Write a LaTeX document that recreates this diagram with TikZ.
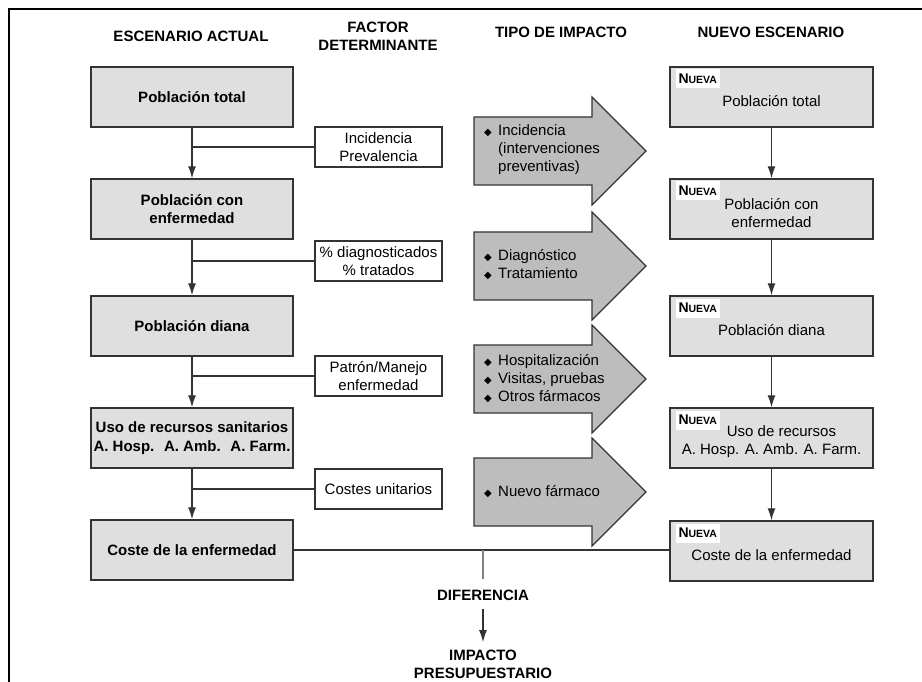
\documentclass[tikz,border=0pt]{standalone}
\usepackage{fontspec}
\setmainfont{Liberation Sans}
\newfontfamily\symfont{DejaVu Sans}
\usetikzlibrary{positioning,arrows.meta}

\definecolor{boxgray}{HTML}{DFDFDF}
\definecolor{arrowgray}{HTML}{BDBDBD}
\definecolor{linegray}{HTML}{333333}

\newcommand{\bul}{\makebox[14pt][l]{\symfont\fontsize{10}{10}\selectfont ◆}}
\newcommand{\nobul}{\hspace*{14pt}}
\newcommand{\nueva}{N{\fontsize{10.5}{10.5}\selectfont UEVA}}

\begin{document}
\begin{tikzpicture}[x=1pt, y=-1pt,
    head/.style={font=\fontsize{15}{18}\selectfont\bfseries, align=center},
    oldbox/.style={draw=linegray, line width=1.4pt, fill=boxgray, align=center, font=\fontsize{15}{18.5}\selectfont\bfseries, minimum width=202pt, minimum height=60pt, inner sep=1pt},
    newbox/.style={draw=linegray, line width=1.4pt, fill=boxgray, minimum width=203pt, minimum height=60pt},
    newtext/.style={align=center, font=\fontsize{15}{18}\selectfont, inner sep=0pt},
    tagbox/.style={fill=white, font=\fontsize{14}{14}\selectfont\bfseries, inner xsep=3pt, inner ysep=2pt, minimum height=19pt, anchor=north west},
    factorbox/.style={draw=linegray, line width=1.1pt, fill=white, align=center, font=\fontsize{15}{18}\selectfont, minimum width=127pt, minimum height=40pt, inner sep=1pt},
    impact/.style={draw=linegray, line width=1.1pt, fill=arrowgray},
    impacttext/.style={align=left, font=\fontsize{15}{18}\selectfont, inner sep=0pt, anchor=west},
    arrow/.style={-{Latex[length=12pt,width=8pt]}, draw=linegray, line width=1.3pt},
    link/.style={draw=linegray, line width=1.3pt}
]
\useasboundingbox (0,0) rectangle (922,682);

% marco
\draw[line width=2pt] (922,9) -- (9,9) -- (9,682);

% cabeceras
\node[head] (hAct) at (191,36) {ESCENARIO ACTUAL};
\node[head] (hFac) at (378,36) {FACTOR\\DETERMINANTE};
\node[head] (hImp) at (561,32) {TIPO DE IMPACTO};
\node[head] (hNue) at (771,32) {NUEVO ESCENARIO};

% escenario actual
\node[oldbox] (b1) at (192,97)  {Población total};
\node[oldbox] (b2) at (192,209) {Población con\\enfermedad};
\node[oldbox] (b3) at (192,326) {Población diana};
\node[oldbox] (b4) at (192,438) {Uso de recursos sanitarios\\A. Hosp.~ A. Amb.~ A. Farm.};
\node[oldbox] (b5) at (192,550) {Coste de la enfermedad};

% factores
\node[factorbox] (f1) at (378.5,147) {Incidencia\\Prevalencia};
\node[factorbox] (f2) at (378.5,261) {\% diagnosticados\\\% tratados};
\node[factorbox] (f3) at (378.5,376) {Patrón/Manejo\\enfermedad};
\node[factorbox] (f4) at (378.5,489) {Costes unitarios};

% flechas de impacto
\foreach \yc in {151,266,379,492}
  \draw[impact] (474,\yc-34) -- (592,\yc-34) -- (592,\yc-54) -- (646,\yc)
    -- (592,\yc+54) -- (592,\yc+34) -- (474,\yc+34) -- cycle;

\node[impacttext] (i1) at (484,150) {\bul Incidencia\\\nobul(intervenciones\\\nobul preventivas)};
\node[impacttext] (i2) at (484,265) {\bul Diagnóstico\\\bul Tratamiento};
\node[impacttext] (i3) at (484,379) {\bul Hospitalización\\\bul Visitas, pruebas\\\bul Otros fármacos};
\node[impacttext] (i4) at (484,492) {\bul Nuevo fármaco};

% nuevo escenario
\node[newbox] (n1) at (771.5,97)  {};
\node[newbox] (n2) at (771.5,209) {};
\node[newbox] (n3) at (771.5,326) {};
\node[newbox] (n4) at (771.5,438) {};
\node[newbox] (n5) at (771.5,551) {};

\foreach \n in {n1,n2,n3,n4,n5}
  \node[tagbox] (tag-\n) at ([xshift=6pt,yshift=-3pt]\n.north west) {\nueva};

\node[newtext] (t1) at ([yshift=-4pt]n1.center) {Población total};
\node[newtext] (t2) at ([yshift=-4pt]n2.center) {Población con\\enfermedad};
\node[newtext] (t3) at ([yshift=-4pt]n3.center) {Población diana};
\node[newtext] (t4) at ([yshift=-4pt]n4.center) {\hspace*{20pt}Uso de recursos\\A. Hosp. A. Amb. A. Farm.};
\node[newtext] (t5) at ([yshift=-4pt]n5.center) {Coste de la enfermedad};

% conexiones
\foreach \a/\b in {b1/b2,b2/b3,b3/b4,b4/b5}
  \draw[arrow] (\a.south) -- (\b.north);
\foreach \a/\b in {n1/n2,n2/n3,n3/n4,n4/n5}
  \draw[arrow] (\a.south) -- (\b.north);
\foreach \f/\b in {f1/b1,f2/b2,f3/b3,f4/b4}
  \draw[link] (\f.west) -- (\b.south |- \f.west);

\draw[link] (b5.east) -- (b5.east -| n5.west);

% diferencia
\node[head] (dif) at (483,595) {DIFERENCIA};
\node[head] (imp) at (483,664) {IMPACTO\\PRESUPUESTARIO};
\draw[link, draw=gray] (dif.north |- b5.east) -- ([yshift=7pt]dif.north);
\draw[arrow] ([yshift=-5pt]dif.south) -- ([yshift=4pt]imp.north);
\end{tikzpicture}
\end{document}
